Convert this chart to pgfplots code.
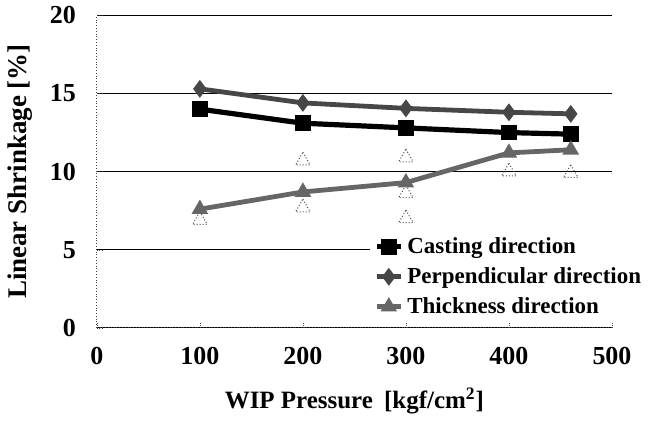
\documentclass[border=0pt]{standalone}
\usepackage{fontspec}
\setmainfont{Liberation Serif}
\usepackage{pgfplots}
\pgfplotsset{compat=1.18}
\definecolor{perpGray}{gray}{0.28}
\definecolor{thickGray}{gray}{0.40}
\definecolor{openGray}{gray}{0.30}

\begin{document}
\begin{tikzpicture}
\begin{axis}[name=ax, scale only axis, width=258pt, height=156.5pt,
  xmin=0, xmax=500, ymin=0, ymax=20,
  xtick={0,100,...,500}, ytick={0,5,...,20},
  axis x line*=bottom, axis y line*=left,
  axis line style={black!75, densely dotted, -},
  tick style={black!75, densely dotted},
  major tick length=3pt,
  ymajorgrids, grid style={black, line width=0.6pt, solid},
  /pgf/number format/assume math mode=true,
  ticklabel style={font=\bfseries\fontsize{13}{14}\selectfont},
  xticklabel style={yshift=-6pt},
  yticklabel style={xshift=-7pt},
  xlabel={WIP Pressure\hspace{0.45em}[kgf/cm\textsuperscript{2}]},
  ylabel={Linear Shrinkage [\%]},
  xlabel style={font=\bfseries\fontsize{12.5}{14}\selectfont, yshift=-5pt},
  ylabel style={font=\bfseries\fontsize{13.5}{15}\selectfont, yshift=2pt},
  legend cell align=left,
  legend style={at={(0.53,0.31)}, anchor=north west, draw=none, fill=white,
    font=\bfseries\fontsize{11.5}{12}\selectfont, row sep=1.5pt, inner xsep=2pt,
    inner ysep=1pt},
  legend image code/.code={\draw[mark repeat=2,mark phase=2]
    plot coordinates {(0pt,0pt)(6pt,0pt)(12pt,0pt)};},
]
% individual measurements (open triangles)
\addplot[only marks, mark=triangle, mark size=4.2pt,
  mark options={draw=openGray, densely dotted, line width=0.5pt, fill=white},
  forget plot] coordinates {
  (100,6.9) (200,10.7) (200,7.7) (300,10.9) (300,8.6) (300,7.0)
  (400,10.0) (460,9.9)};
\addplot[black, line width=2.6pt, mark=square*, mark size=3.6pt,
  mark options={solid, fill=black, line width=0.6pt}] coordinates {
  (100,14.0) (200,13.1) (300,12.8) (400,12.5) (460,12.4)};
\addplot[perpGray, line width=2.4pt, mark=diamond*, mark size=4pt,
  mark options={solid, fill=perpGray, line width=0.6pt}] coordinates {
  (100,15.3) (200,14.4) (300,14.05) (400,13.8) (460,13.7)};
\addplot[thickGray, line width=2.4pt, mark=triangle*, mark size=4.2pt,
  mark options={solid, fill=thickGray, line width=0.6pt}] coordinates {
  (100,7.6) (200,8.7) (300,9.3) (400,11.2) (460,11.4)};
\legend{Casting direction, Perpendicular direction, Thickness direction}
\end{axis}
\path ([shift={(-48.5pt,-46.5pt)}]ax.south west) rectangle ([shift={(276pt,164pt)}]ax.south west);
\end{tikzpicture}
\end{document}
